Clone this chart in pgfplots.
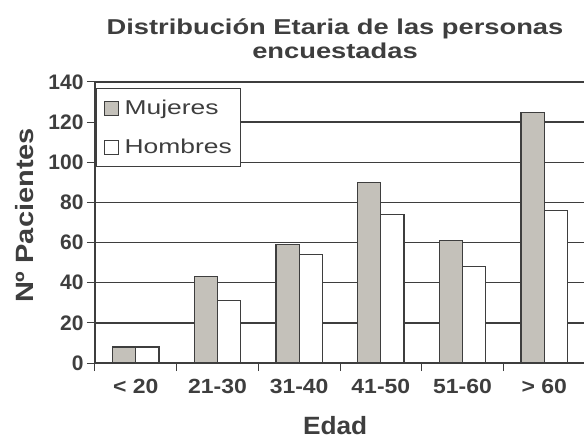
\documentclass[border=0pt]{standalone}
\usepackage{fontspec}
\setmainfont{Liberation Sans}
\usepackage{graphicx}
\usepackage{pgfplots}
\pgfplotsset{compat=1.18}
\definecolor{barM}{RGB}{196,193,186}
\definecolor{ink}{RGB}{62,62,62}
\begin{document}
\begin{tikzpicture}
\begin{axis}[
  at={(0pt,0pt)}, anchor=south west,
  scale only axis, width=490pt, height=281pt,
  xmin=-0.5, xmax=5.5, ymin=0, ymax=140,
  enlargelimits=false,
  axis x line*=bottom, axis y line*=left,
  axis line style={draw=ink, line width=1.3pt, -},
  ybar=0pt, bar width=0.283,
  xtick={-0.5,0.5,...,5.5},
  x tick label as interval,
  xticklabels={{\scalebox{1.12}[1]{< 20}},{\scalebox{1.12}[1]{21-30}},{\scalebox{1.12}[1]{31-40}},{\scalebox{1.12}[1]{41-50}},{\scalebox{1.12}[1]{51-60}},{\scalebox{1.12}[1]{> 60}}},
  ytick={0,20,...,140},
  tick align=outside,
  major tick length=8pt,
  tick style={draw=ink, line width=1pt},
  ymajorgrids,
  major grid style={draw=ink, line width=1.3pt},
  /pgf/number format/assume math mode=true,
  yticklabel style={font=\fontsize{21}{24}\selectfont\bfseries, text=ink},
  xticklabel style={font=\fontsize{20.5}{24}\selectfont\bfseries, text=ink, anchor=base, yshift=-22pt},
  xlabel={\scalebox{1.05}[1]{Edad}},
  xlabel style={at={(axis description cs:0.49,-0.253)}, anchor=base, font=\fontsize{25}{28}\selectfont\bfseries, text=ink},
  ylabel={\scalebox{1.16}[1]{Nº Pacientes}},
  ylabel style={at={(axis description cs:-0.1265,0.525)}, anchor=base, font=\fontsize{25}{28}\selectfont\bfseries, text=ink},
  legend style={at={(axis description cs:0.002,0.979)}, anchor=north west,
    draw=ink, line width=1.2pt, fill=white, inner xsep=7pt, inner ysep=7pt,
    row sep=14pt, font=\fontsize{20}{24}\selectfont, text=ink,
    nodes={inner sep=2pt, text height=17pt, text depth=4pt}},
  legend cell align=left,
  legend image code/.code={\draw[#1, line width=0.9pt] (0pt,-7pt) rectangle (14pt,7pt); \path (18pt,0pt);},
]
\addplot[fill=barM, draw=ink, line width=1.2pt] coordinates {(0,8) (1,43) (2,59) (3,90) (4,61) (5,125)};
\addplot[fill=white, draw=ink, line width=1.2pt] coordinates {(0,8) (1,31) (2,54) (3,74) (4,48) (5,76)};
\addlegendentry{\scalebox{1.32}[1]{Mujeres}}
\addlegendentry{\scalebox{1.32}[1]{Hombres}}
\end{axis}
\node[anchor=base, font=\fontsize{21.5}{26}\selectfont\bfseries, text=ink, inner sep=0pt] at (240pt,328pt) {\scalebox{1.27}[1]{Distribución Etaria de las personas}};
\node[anchor=base, font=\fontsize{21.5}{26}\selectfont\bfseries, text=ink, inner sep=0pt] at (240pt,304.7pt) {\scalebox{1.27}[1]{encuestadas}};
\pgfresetboundingbox
\path (-95pt,-76pt) rectangle (489pt,363pt);
\end{tikzpicture}
\end{document}
